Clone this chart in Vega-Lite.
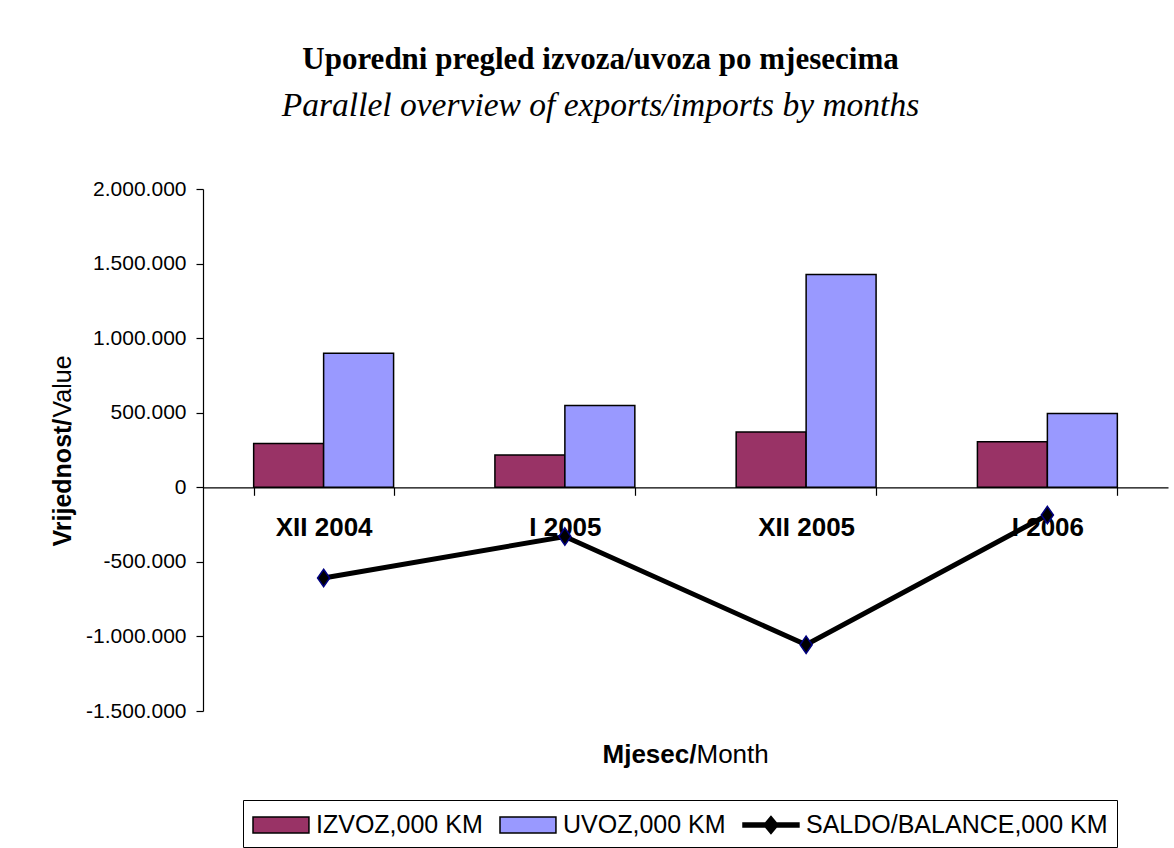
{
  "$schema": "https://vega.github.io/schema/vega-lite/v6.json",
  "width": 965,
  "height": 522,
  "autosize": {"type": "none"},
  "padding": {"left": 203, "top": 189, "right": 6, "bottom": 137},
  "background": "white",
  "config": {
    "view": {"stroke": null},
    "font": "Liberation Sans",
    "axis": {"domainColor": "black", "tickColor": "black", "labelColor": "black", "titleColor": "black", "grid": false, "domainWidth": 1.2, "tickWidth": 1.2}
  },
  "title": {
    "text": "Uporedni pregled izvoza/uvoza po mjesecima",
    "subtitle": "Parallel overview of exports/imports by months",
    "font": "Liberation Serif",
    "fontSize": 31,
    "fontWeight": "bold",
    "color": "black",
    "subtitleFont": "Liberation Serif",
    "subtitleFontSize": 33.5,
    "subtitleFontStyle": "italic",
    "subtitleColor": "black",
    "subtitlePadding": 14,
    "anchor": "middle",
    "frame": "group",
    "offset": 55,
    "dx": -85
  },
  "data": {
    "values": [
      {"month": "XII 2004", "series": "IZVOZ,000 KM", "value": 294000},
      {"month": "XII 2004", "series": "UVOZ,000 KM", "value": 898000},
      {"month": "XII 2004", "series": "SALDO/BALANCE,000 KM", "value": -608000},
      {"month": "I 2005", "series": "IZVOZ,000 KM", "value": 216000},
      {"month": "I 2005", "series": "UVOZ,000 KM", "value": 548000},
      {"month": "I 2005", "series": "SALDO/BALANCE,000 KM", "value": -330000},
      {"month": "XII 2005", "series": "IZVOZ,000 KM", "value": 370000},
      {"month": "XII 2005", "series": "UVOZ,000 KM", "value": 1427000},
      {"month": "XII 2005", "series": "SALDO/BALANCE,000 KM", "value": -1056000},
      {"month": "I 2006", "series": "IZVOZ,000 KM", "value": 305000},
      {"month": "I 2006", "series": "UVOZ,000 KM", "value": 495000},
      {"month": "I 2006", "series": "SALDO/BALANCE,000 KM", "value": -186000}
    ]
  },
  "layer": [
    {
      "transform": [{"filter": "datum.series !== 'SALDO/BALANCE,000 KM'"}],
      "mark": {"type": "bar", "stroke": "black", "strokeWidth": 1.5},
      "encoding": {
        "x": {
          "field": "month", "type": "nominal",
          "sort": ["XII 2004", "I 2005", "XII 2005", "I 2006"],
          "scale": {"paddingInner": 0.42, "paddingOuter": 0.21},
          "axis": {
            "orient": "bottom", "offset": -223.71, "tickBand": "extent", "tickSize": 8,
            "labelFontSize": 26, "labelFontWeight": "bold", "labelPadding": 19, "labelAngle": 0,
            "title": "Mjesec/", "titleFontSize": 26, "titleFontWeight": "bold",
            "titleAlign": "left", "titleBaseline": "alphabetic", "titleX": 399, "titleY": 275
          }
        },
        "xOffset": {"field": "series", "type": "nominal", "sort": ["IZVOZ,000 KM", "UVOZ,000 KM"], "scale": {"paddingInner": 0, "paddingOuter": 0}},
        "y": {
          "field": "value", "type": "quantitative",
          "scale": {"domain": [-1500000, 2000000], "nice": false, "zero": false},
          "axis": {
            "orient": "left",
            "values": [-1500000, -1000000, -500000, 0, 500000, 1000000, 1500000, 2000000],
            "labelExpr": "replace(replace(format(datum.value, ','), regexp(',', 'g'), '.'), '\u2212', '-')",
            "tickSize": 7, "labelPadding": 10, "labelFontSize": 21,
            "title": "Vrijednost/", "titleFontSize": 25, "titleFontWeight": "bold", "titleAngle": -90,
            "titleAlign": "left", "titleBaseline": "middle", "titleX": -141, "titleY": 357
          }
        },
        "color": {
          "field": "series", "type": "nominal",
          "scale": {"domain": ["IZVOZ,000 KM", "UVOZ,000 KM", "SALDO/BALANCE,000 KM"], "range": ["#993366", "#9999FF", "black"]},
          "legend": {
            "orient": "none", "legendX": 40, "legendY": 611, "direction": "horizontal", "title": null,
            "strokeColor": "black", "padding": 9, "fillColor": "white",
            "labelFont": "Liberation Sans", "labelFontSize": 25, "labelColor": "black", "labelOffset": 32, "labelLimit": 0,
            "columnPadding": 14, "symbolSize": 900, "symbolStrokeWidth": 1.5, "symbolStrokeColor": "black",
            "symbolType": "M-1,-0.53L2.73,-0.53L2.73,0.53L-1,0.53Z",
            "encode": {
              "symbols": {
                "stroke": {"value": "black"},
                "strokeWidth": {"value": 1.5},
                "strokeOpacity": {"value": 1},
                "update": {
                  "shape": {"signal": "datum.value === 'SALDO/BALANCE,000 KM' ? 'M-1,-0.13L0.5,-0.13L0.865,-0.57L1.23,-0.13L2.73,-0.13L2.73,0.13L1.23,0.13L0.865,0.57L0.5,0.13L-1,0.13Z' : 'M-1,-0.53L2.73,-0.53L2.73,0.53L-1,0.53Z'"},
                  "fill": {"signal": "datum.value === 'SALDO/BALANCE,000 KM' ? 'black' : scale('color', datum.value)"},
                  "stroke": {"value": "black"},
                  "strokeWidth": {"value": 1.5},
                  "strokeOpacity": {"value": 1},
                  "opacity": {"value": 1},
                  "fillOpacity": {"value": 1}
                }
              }
            }
          }
        }
      }
    },
    {
      "transform": [{"filter": "datum.series === 'SALDO/BALANCE,000 KM'"}],
      "mark": {"type": "line", "strokeWidth": 5, "color": "black"},
      "encoding": {
        "x": {
          "field": "month", "type": "nominal",
          "sort": ["XII 2004", "I 2005", "XII 2005", "I 2006"],
          "axis": {
            "orient": "bottom", "offset": -223.71, "labels": false, "ticks": false, "domain": false,
            "title": "Month", "titleFontSize": 26, "titleFontWeight": "normal",
            "titleAlign": "left", "titleBaseline": "alphabetic", "titleX": 493, "titleY": 275
          }
        },
        "y": {
          "field": "value", "type": "quantitative",
          "axis": {
            "orient": "left", "labels": false, "ticks": false, "domain": false,
            "title": "Value", "titleFontSize": 25, "titleFontWeight": "normal", "titleAngle": -90,
            "titleAlign": "left", "titleBaseline": "middle", "titleX": -141, "titleY": 228
          }
        }
      }
    },
    {
      "transform": [{"filter": "datum.series === 'SALDO/BALANCE,000 KM'"}],
      "mark": {"type": "point", "filled": true, "shape": "M0,-1L0.7,0L0,1L-0.7,0Z", "size": 300, "fill": "black", "stroke": "#000080", "strokeWidth": 1.5, "opacity": 1},
      "encoding": {
        "x": {"field": "month", "type": "nominal", "sort": ["XII 2004", "I 2005", "XII 2005", "I 2006"], "axis": null},
        "y": {"field": "value", "type": "quantitative", "axis": null}
      }
    }
  ],
  "resolve": {"axis": {"x": "independent", "y": "independent"}}
}
